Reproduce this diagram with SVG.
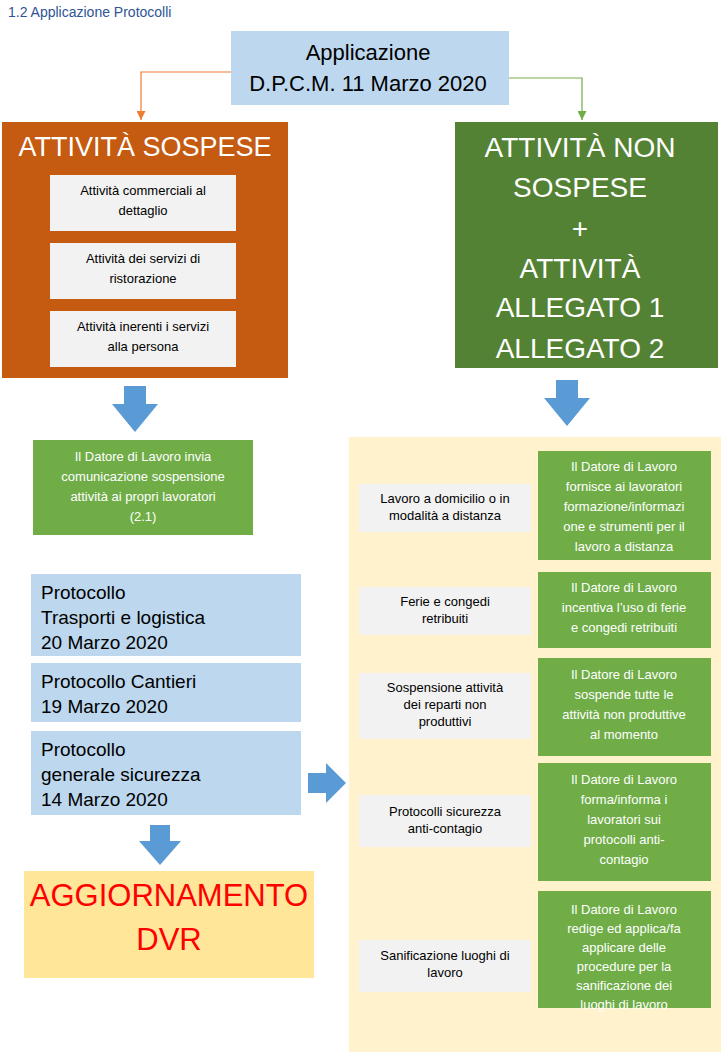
<svg xmlns="http://www.w3.org/2000/svg" width="724" height="1052" viewBox="0 0 724 1052">
<style>
text{font-family:"Liberation Sans",Arial,sans-serif;text-anchor:middle}
.g{fill:#f2f2f2}.gt{font-size:13px;fill:#000}
.gr{fill:#70ad47}.wt{font-size:13px;fill:#fff}
.lb{fill:#bdd7ee}.bt{font-size:19px;fill:#000;text-anchor:start}
.ar{fill:#5b9bd5}
</style>
<defs>
<marker id="mo" markerWidth="8" markerHeight="8" refX="4" refY="7" orient="auto" markerUnits="userSpaceOnUse"><path d="M0,0L8,0L4,8z" fill="#ed7d31" transform="rotate(-90 4 4)"/></marker>
<marker id="ao" viewBox="0 0 10 10" refX="10" refY="5" markerWidth="9" markerHeight="9" orient="auto" markerUnits="userSpaceOnUse"><path d="M0,0L10,5L0,10z" fill="#ed7d31"/></marker>
<marker id="ag" viewBox="0 0 10 10" refX="10" refY="5" markerWidth="9" markerHeight="9" orient="auto" markerUnits="userSpaceOnUse"><path d="M0,0L10,5L0,10z" fill="#70ad47"/></marker>
</defs>
<text x="8" y="17" style="text-anchor:start;font-size:14px;fill:#2f5496">1.2 Applicazione Protocolli</text>
<rect x="349" y="437" width="372" height="615" fill="#fff2cc"/>
<g id="connectors">
<path d="M231,72H141V120" fill="none" stroke="#ed7d31" stroke-width="1.2" marker-end="url(#ao)"/>
<path d="M498,78H582V120" fill="none" stroke="#70ad47" stroke-width="1.2" marker-end="url(#ag)"/>
<path class="ar" d="M124,386h22v18h12l-23,28l-23,-28h12z"/>
<path class="ar" d="M556,380h22v18h12l-23,28l-23,-28h12z"/>
<path class="ar" d="M308,773h18v-10l20,20l-20,20v-10h-18z"/>
<path class="ar" d="M150,825h20v16h11l-21,24l-21,-24h11z"/>
</g>
<g id="top"><rect x="231" y="31" width="278" height="74" fill="#bdd7ee"/>
<text x="368" y="60" font-size="22">Applicazione</text><text x="368" y="91" font-size="22">D.P.C.M. 11 Marzo 2020</text></g>
<g id="sospese"><rect x="2" y="122" width="286" height="256" fill="#c55a11"/>
<text x="145" y="156" font-size="27" fill="#fff">ATTIVITÀ SOSPESE</text></g>
<g id="s1"><rect class="g" x="50" y="175" width="186" height="56"/><text class="gt" x="143" y="195">Attività commerciali  al</text><text class="gt" x="143" y="215">dettaglio</text></g>
<g id="s2"><rect class="g" x="50" y="243" width="186" height="56"/><text class="gt" x="143" y="263">Attività dei servizi  di</text><text class="gt" x="143" y="283">ristorazione</text></g>
<g id="s3"><rect class="g" x="50" y="311" width="186" height="56"/><text class="gt" x="143" y="331">Attività inerenti  i servizi</text><text class="gt" x="143" y="351">alla persona</text></g>
<g id="nonsospese"><rect x="455" y="122" width="263" height="246" fill="#548235"/>
<g font-size="28" fill="#fff"><text x="580" y="157">ATTIVITÀ NON</text><text x="580" y="197">SOSPESE</text><text x="580" y="238">+</text><text x="580" y="278">ATTIVITÀ</text><text x="580" y="317">ALLEGATO 1</text><text x="580" y="358">ALLEGATO 2</text></g></g>
<g id="datore1"><rect class="gr" x="33" y="440" width="220" height="95"/>
<text class="wt" x="143" y="461">Il Datore di Lavoro invia</text><text class="wt" x="143" y="481">comunicazione sospensione</text><text class="wt" x="143" y="501">attività ai propri lavoratori</text><text class="wt" x="143" y="521">(2.1)</text></g>
<g id="p1"><rect class="lb" x="31" y="574" width="270" height="82"/><text class="bt" x="41" y="599">Protocollo</text><text class="bt" x="41" y="624">Trasporti e logistica</text><text class="bt" x="41" y="649">20 Marzo 2020</text></g>
<g id="p2"><rect class="lb" x="31" y="663" width="270" height="59"/><text class="bt" x="41" y="688">Protocollo Cantieri</text><text class="bt" x="41" y="713">19 Marzo 2020</text></g>
<g id="p3"><rect class="lb" x="31" y="731" width="270" height="84"/><text class="bt" x="41" y="756">Protocollo</text><text class="bt" x="41" y="781">generale sicurezza</text><text class="bt" x="41" y="806">14 Marzo 2020</text></g>
<g id="dvr"><rect x="24" y="871" width="290" height="107" fill="#ffe699"/><text x="169" y="906" font-size="31" fill="#ff0000">AGGIORNAMENTO</text><text x="169" y="950" font-size="31" fill="#ff0000">DVR</text></g>
<g id="r1"><rect class="g" x="359" y="484" width="172" height="48"/><text class="gt" x="445" y="503">Lavoro a domicilio  o in</text><text class="gt" x="445" y="520">modalità a distanza</text></g>
<g id="r2"><rect class="g" x="359" y="587" width="172" height="48"/><text class="gt" x="445" y="606">Ferie  e congedi</text><text class="gt" x="445" y="623">retribuiti</text></g>
<g id="r3"><rect class="g" x="359" y="673" width="172" height="66"/><text class="gt" x="445" y="692">Sospensione  attività</text><text class="gt" x="445" y="709">dei reparti  non</text><text class="gt" x="445" y="726">produttivi</text></g>
<g id="r4"><rect class="g" x="359" y="795" width="172" height="52"/><text class="gt" x="445" y="816">Protocolli sicurezza</text><text class="gt" x="445" y="833">anti-contagio</text></g>
<g id="r5"><rect class="g" x="359" y="940" width="172" height="52"/><text class="gt" x="445" y="960">Sanificazione  luoghi di</text><text class="gt" x="445" y="977">lavoro</text></g>
<g id="g1"><rect class="gr" x="538" y="451" width="173" height="109"/><text class="wt" x="624" y="471">Il Datore di Lavoro</text><text class="wt" x="624" y="491">fornisce ai lavoratori</text><text class="wt" x="624" y="511">formazione/informazi</text><text class="wt" x="624" y="531">one e strumenti per il</text><text class="wt" x="624" y="551">lavoro a distanza</text></g>
<g id="g2"><rect class="gr" x="538" y="572" width="173" height="76"/><text class="wt" x="624" y="592">Il Datore di Lavoro</text><text class="wt" x="624" y="612">incentiva l’uso di ferie</text><text class="wt" x="624" y="632">e congedi retribuiti</text></g>
<g id="g3"><rect class="gr" x="538" y="658" width="173" height="98"/><text class="wt" x="624" y="679">Il Datore di Lavoro</text><text class="wt" x="624" y="699">sospende tutte le</text><text class="wt" x="624" y="719">attività non produttive</text><text class="wt" x="624" y="739">al momento</text></g>
<g id="g4"><rect class="gr" x="538" y="763" width="173" height="118"/><text class="wt" x="624" y="784">Il Datore di Lavoro</text><text class="wt" x="624" y="804">forma/informa i</text><text class="wt" x="624" y="824">lavoratori sui</text><text class="wt" x="624" y="844">protocolli anti-</text><text class="wt" x="624" y="864">contagio</text></g>
<g id="g5"><rect class="gr" x="538" y="891" width="173" height="117"/><text class="wt" x="624" y="914">Il Datore di Lavoro</text><text class="wt" x="624" y="933">redige ed applica/fa</text><text class="wt" x="624" y="952">applicare delle</text><text class="wt" x="624" y="971">procedure per la</text><text class="wt" x="624" y="990">sanificazione dei</text><text class="wt" x="624" y="1009">luoghi di lavoro</text></g>
</svg>
